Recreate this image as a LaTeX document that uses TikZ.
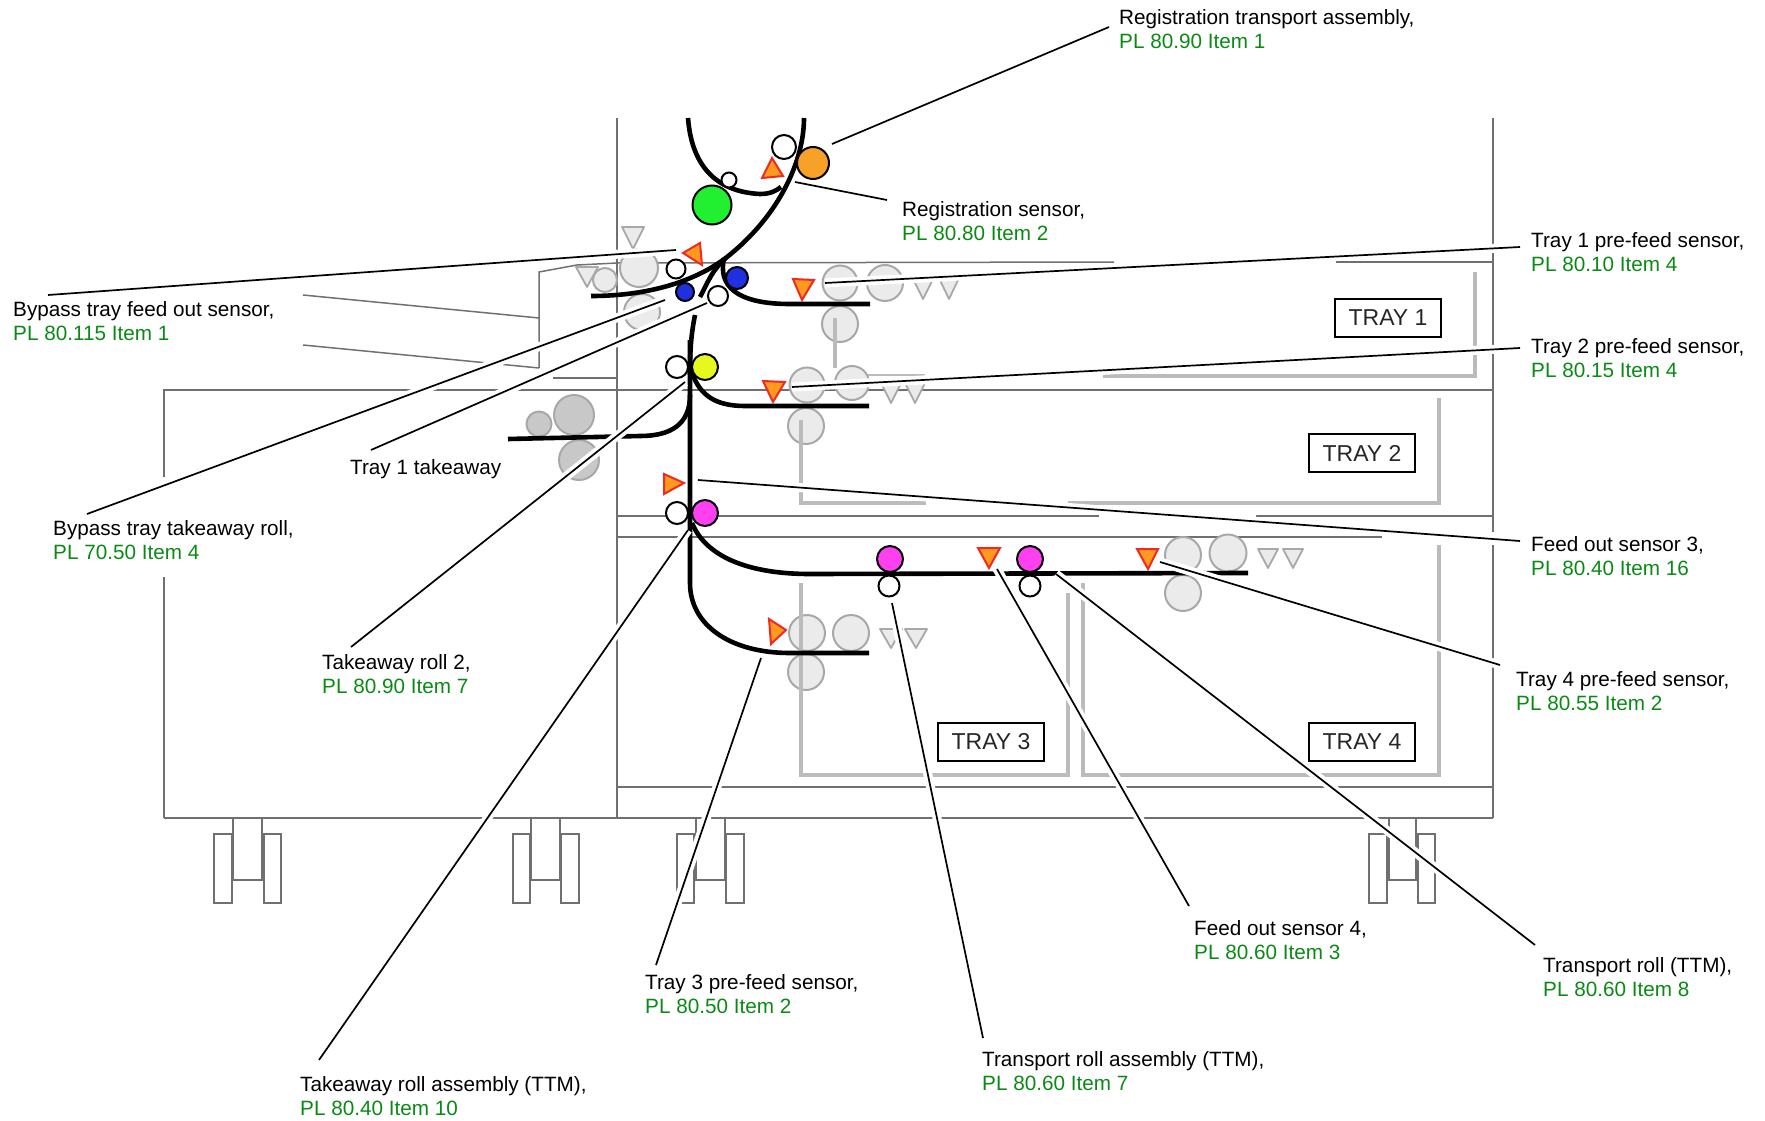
\documentclass[tikz,border=0pt]{standalone}
\usepackage{fontspec}
\setmainfont{Liberation Sans}
\definecolor{frameGray}{HTML}{707070}
\definecolor{trayGray}{HTML}{BBBBBB}
\definecolor{rollGray}{HTML}{A8A8A8}
\definecolor{rollFill}{HTML}{EBEBEB}
\definecolor{rollDark}{HTML}{C8C8C8}
\definecolor{partGreen}{HTML}{0A8A14}
\definecolor{sensorRed}{HTML}{EE2A24}
\definecolor{sensorOrange}{HTML}{FF9A1E}
\definecolor{rollOrange}{HTML}{F7A128}
\definecolor{rollGreen}{HTML}{20F030}
\definecolor{rollBlue}{HTML}{2030E0}
\definecolor{rollYellow}{HTML}{E4FA1E}
\definecolor{rollMagenta}{HTML}{FF40F0}
\tikzset{
  frame/.style={draw=frameGray, line width=1.5pt},
  trayframe/.style={draw=trayGray, line width=4pt},
  grayroll/.style={draw=rollGray, fill=rollFill, line width=2pt},
  darkroll/.style={draw=rollGray, fill=rollDark, line width=2pt},
  graytri/.style={draw=rollGray, fill=rollFill, line width=1.8pt, line join=round},
  paper/.style={draw=black, line width=4.6pt},
  sensor/.style={draw=sensorRed, fill=sensorOrange, line width=2pt},
  leader/.style={draw=black, line width=1.7pt, preaction={draw=white, line width=9pt}},
  roller/.style={circle, draw=black, line width=2pt, inner sep=0pt, fill=white},
  traybox/.style={draw=black, line width=2.4pt, minimum width=106pt, minimum height=38pt, inner sep=0pt,
    text=black!85, font=\fontsize{23}{24}\selectfont},
  label/.style={anchor=west, align=left, inner sep=0pt, font=\fontsize{20.7}{23.4}\selectfont},
}
\begin{document}
\begin{tikzpicture}[x=1pt, y=-1pt]
    \useasboundingbox (0,0) rectangle (1765,1121);

    % machine outline
    \draw[frame] (617,118) -- (617,818);
    \draw[frame] (1493,118) -- (1493,532);
    \draw[frame] (1493,545) -- (1493,818);
    \draw[frame] (539,368) -- (539,272) -- (577,265) -- (617,263) -- (1114,262);
    \draw[frame] (1336,262) -- (1493,262);
    \draw[frame] (303,295) -- (539,318);
    \draw[frame] (303,345) -- (539,368);
    \draw[frame] (553,378) -- (617,378);
    \draw[frame] (164,477) -- (164,390) -- (1493,390);
    \draw[frame] (164,577) -- (164,818);
    \draw[frame] (617,516) -- (1099,516);
    \draw[frame] (1256,516) -- (1493,516);
    \draw[frame] (617,537) -- (1382,537);
    \draw[frame] (617,787) -- (1493,787);
    \draw[frame] (164,818) -- (1493,818);

    % casters
    \draw[frame] (214,834) rectangle (232,903);
    \draw[frame] (264,834) rectangle (281,903);
    \draw[frame] (233,819) -- (233,880) -- (262,880) -- (262,819);
    \draw[frame] (513,834) rectangle (530,903);
    \draw[frame] (561,834) rectangle (579,903);
    \draw[frame] (531,819) -- (531,880) -- (560,880) -- (560,819);
    \draw[frame] (677,834) rectangle (694,903);
    \draw[frame] (726,834) rectangle (744,903);
    \draw[frame] (696,819) -- (696,880) -- (725,880) -- (725,819);
    \draw[frame] (1369,834) rectangle (1387,903);
    \draw[frame] (1418,834) rectangle (1435,903);
    \draw[frame] (1389,819) -- (1389,880) -- (1416,880) -- (1416,819);

    % tray labels
    \node[traybox] (tray1) at (1388,318) {TRAY 1};
    \node[traybox] (tray2) at (1362,453) {TRAY 2};
    \node[traybox] (tray3) at (991,742) {TRAY 3};
    \node[traybox] (tray4) at (1362,742) {TRAY 4};

    % tray frames behind the tray 2 rolls
    \draw[trayframe] (835,318) -- (835,368);
    \draw[trayGray, line width=2pt] (868,375) -- (925,375);

    % bypass rolls
    \draw[graytri] (622,227) -- (644,227) -- (633,249) -- cycle;
    \draw[graytri] (576,267) -- (598,267) -- (587,287) -- cycle;
    \draw[grayroll] (642,312) circle (18);
    \draw[grayroll] (605,280) circle (12);
    \draw[grayroll] (639,268) circle (19);
    \draw[darkroll] (574,415) circle (20);
    \draw[darkroll] (539,424) circle (12.5);
    \draw[darkroll] (579,460) circle (20);

    % tray 1 rolls
    \draw[grayroll] (840,283) circle (17.5);
    \draw[grayroll] (885,283) circle (18);
    \draw[grayroll] (840,324) circle (18);
    \draw[graytri] (912,277) -- (934,277) -- (923,299) -- cycle;
    \draw[graytri] (938,276) -- (960,276) -- (949,299) -- cycle;

    % tray 2 rolls
    \draw[grayroll] (807,385) circle (17.5);
    \draw[grayroll] (852,383) circle (17);
    \draw[grayroll] (806,426) circle (18);
    \draw[graytri] (880,381) -- (902,381) -- (891,403) -- cycle;
    \draw[graytri] (904,381) -- (926,381) -- (915,403) -- cycle;

    % tray 3 rolls
    \draw[grayroll] (807,633) circle (18);
    \draw[grayroll] (851,633) circle (18);
    \draw[grayroll] (806,672) circle (18);
    \draw[graytri] (880,629) -- (902,629) -- (891,648) -- cycle;
    \draw[graytri] (905,629) -- (927,629) -- (916,648) -- cycle;

    % tray 4 rolls
    \draw[grayroll] (1183,555) circle (18);
    \draw[grayroll] (1228,553) circle (18.5);
    \draw[grayroll] (1183,593) circle (18);
    \draw[graytri] (1258,549) -- (1278,549) -- (1268,568) -- cycle;
    \draw[graytri] (1283,549) -- (1303,549) -- (1293,568) -- cycle;

    % tray frames
    \draw[trayframe] (835,318) -- (835,368);
    \draw[trayframe] (1103,376) -- (1475,376) -- (1475,272);
    \draw[trayframe] (801,420) -- (801,503) -- (926,503);
    \draw[trayframe] (1068,503) -- (1439,503) -- (1439,398);
    \draw[trayframe] (801,583) -- (801,775) -- (1068,775) -- (1068,593);
    \draw[trayframe] (1083,583) -- (1083,775) -- (1439,775) -- (1439,545);

    % paper path
    \draw[paper] (688,118) .. controls (692,170) and (720,192) .. (760,194) .. controls (770,194) and (776,191) .. (781,187);
    \draw[paper] (804,118) .. controls (804,160) and (780,215) .. (727,257) .. controls (700,278) and (655,296) .. (591,296);
    \draw[paper] (726,258) .. controls (712,270) and (708,282) .. (700,297);
    \draw[paper] (724,258) .. controls (718,285) and (735,304) .. (790,304) -- (870,304);
    \draw[paper] (695,315) .. controls (691,335) and (690,350) .. (690,375);
    \draw[paper] (690,340) -- (690,583) .. controls (690,625) and (730,653) .. (790,653) -- (869,653);
    \draw[paper] (692,373) .. controls (700,395) and (715,406) .. (745,406) -- (869,406);
    \draw[paper] (508,439) -- (640,436) .. controls (670,436) and (690,425) .. (690,395);
    \draw[paper] (692,523) .. controls (705,555) and (745,574) .. (810,574) -- (1248,573);

    % leader ends
    \coordinate (regAssyA) at (1109,27);
    \coordinate (regAssyB) at (832,144);
    \coordinate (regSensA) at (887,200);
    \coordinate (regSensB) at (795,182);
    \coordinate (bypSensA) at (48,295);
    \coordinate (bypSensB) at (676,250);
    \coordinate (bypRollA) at (87,514);
    \coordinate (bypRollB) at (665,300);
    \coordinate (takeOneA) at (371,450);
    \coordinate (takeOneB) at (707,303);
    \coordinate (preOneA) at (1520,247);
    \coordinate (preOneB) at (825,283);
    \coordinate (preTwoA) at (1520,348);
    \coordinate (preTwoB) at (792,387);
    \coordinate (takeTwoA) at (351,647);
    \coordinate (takeTwoB) at (685,382);
    \coordinate (outThreeA) at (1520,541);
    \coordinate (outThreeB) at (698,480);
    \coordinate (takeAssyA) at (319,1060);
    \coordinate (takeAssyB) at (688,530);
    \coordinate (preThreeA) at (656,965);
    \coordinate (preThreeB) at (761,658);
    \coordinate (transAssyA) at (983,1038);
    \coordinate (transAssyB) at (892,603);
    \coordinate (outFourA) at (1189,906);
    \coordinate (outFourB) at (997,569);
    \coordinate (transRollA) at (1535,945);
    \coordinate (transRollB) at (1056,574);
    \coordinate (preFourA) at (1500,665);
    \coordinate (preFourB) at (1160,562);

    % leaders
    \draw[leader] (regAssyA) -- (regAssyB);
    \draw[leader] (regSensA) -- (regSensB);
    \draw[leader] (bypSensA) -- (bypSensB);
    \draw[leader] (bypRollA) -- (bypRollB);
    \draw[leader] (takeOneA) -- (takeOneB);
    \draw[leader] (preOneA) -- (preOneB);
    \draw[leader] (preTwoA) -- (preTwoB);
    \draw[leader] (takeTwoA) -- (takeTwoB);
    \draw[leader] (outThreeA) -- (outThreeB);
    \draw[leader] (takeAssyA) -- (takeAssyB);
    \draw[leader] (preThreeA) -- (preThreeB);
    \draw[leader] (transAssyA) -- (transAssyB);
    \draw[leader] (outFourA) -- (outFourB);
    \draw[leader] (transRollA) -- (transRollB);
    \draw[leader] (preFourA) -- (preFourB);

    % rollers
    \node[roller, minimum size=32pt, fill=rollOrange] (regRoll) at (813,163) {};
    \node[roller, minimum size=24pt] (regIdler) at (784,147) {};
    \node[roller, minimum size=15pt] (smallIdler) at (729,180) {};
    \node[roller, minimum size=39pt, fill=rollGreen] (alignRoll) at (712,205) {};
    \node[roller, minimum size=19pt] (bypIdler) at (676,269) {};
    \node[roller, minimum size=18pt, fill=rollBlue] (bypRoll) at (685,292) {};
    \node[roller, minimum size=22pt, fill=rollBlue] (oneRoll) at (737,278) {};
    \node[roller, minimum size=20pt] (oneIdler) at (718,296) {};
    \node[roller, minimum size=26pt, fill=rollYellow] (twoRoll) at (705,367) {};
    \node[roller, minimum size=22pt] (twoIdler) at (677,367) {};
    \node[roller, minimum size=26pt, fill=rollMagenta] (assyRoll) at (705,513) {};
    \node[roller, minimum size=22pt] (assyIdler) at (677,513) {};
    \node[roller, minimum size=26pt, fill=rollMagenta] (transRollOne) at (890,559) {};
    \node[roller, minimum size=21pt] (transIdlerOne) at (889,586) {};
    \node[roller, minimum size=26pt, fill=rollMagenta] (transRollTwo) at (1030,559) {};
    \node[roller, minimum size=21pt] (transIdlerTwo) at (1030,586) {};

    % sensors
    \draw[sensor] (772,158) -- (762,178) -- (783,176) -- cycle;
    \draw[sensor] (700,243) -- (683,253) -- (702,265) -- cycle;
    \draw[sensor] (793,279) -- (814,280) -- (802,300) -- cycle;
    \draw[sensor] (763,381) -- (785,382) -- (773,402) -- cycle;
    \draw[sensor] (664,474) -- (684,483) -- (664,494) -- cycle;
    \draw[sensor] (769,619) -- (786,630) -- (771,644) -- cycle;
    \draw[sensor] (978,548) -- (1000,548) -- (989,568) -- cycle;
    \draw[sensor] (1137,549) -- (1158,549) -- (1148,569) -- cycle;

    % labels
    \node[label] (regAssy) at (1119,29) {Registration transport assembly,\\\textcolor{partGreen}{PL 80.90 Item 1}};
    \node[label] (regSens) at (902,221) {Registration sensor,\\\textcolor{partGreen}{PL 80.80 Item 2}};
    \node[label] (preOne) at (1531,252) {Tray 1 pre-feed sensor,\\\textcolor{partGreen}{PL 80.10 Item 4}};
    \node[label] (bypSens) at (13,321) {Bypass tray feed out sensor,\\\textcolor{partGreen}{PL 80.115 Item 1}};
    \node[label] (preTwo) at (1531,358) {Tray 2 pre-feed sensor,\\\textcolor{partGreen}{PL 80.15 Item 4}};
    \node[label] (takeOne) at (350,469) {Tray 1 takeaway};
    \node[label] (bypRollLabel) at (53,540) {Bypass tray takeaway roll,\\\textcolor{partGreen}{PL 70.50 Item 4}};
    \node[label] (outThree) at (1531,556) {Feed out sensor 3,\\\textcolor{partGreen}{PL 80.40 Item 16}};
    \node[label] (preFour) at (1516,691) {Tray 4 pre-feed sensor,\\\textcolor{partGreen}{PL 80.55 Item 2}};
    \node[label] (takeTwo) at (322,674) {Takeaway roll 2,\\\textcolor{partGreen}{PL 80.90 Item 7}};
    \node[label] (outFour) at (1194,940) {Feed out sensor 4,\\\textcolor{partGreen}{PL 80.60 Item 3}};
    \node[label] (transRollLabel) at (1543,977) {Transport roll (TTM),\\\textcolor{partGreen}{PL 80.60 Item 8}};
    \node[label] (preThree) at (645,994) {Tray 3 pre-feed sensor,\\\textcolor{partGreen}{PL 80.50 Item 2}};
    \node[label] (transAssy) at (982,1071) {Transport roll assembly (TTM),\\\textcolor{partGreen}{PL 80.60 Item 7}};
    \node[label] (takeAssy) at (300,1096) {Takeaway roll assembly (TTM),\\\textcolor{partGreen}{PL 80.40 Item 10}};

\end{tikzpicture}
\end{document}
